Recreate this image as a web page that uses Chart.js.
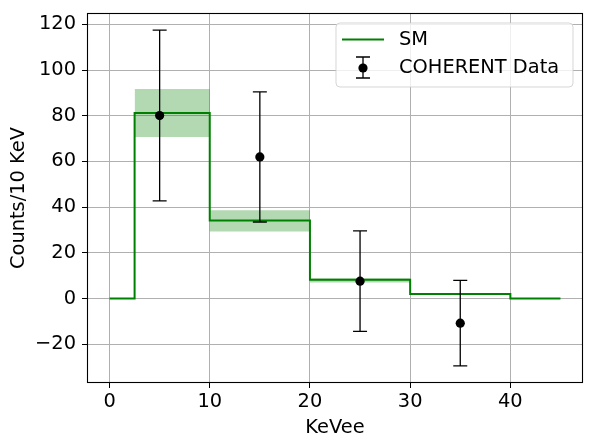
<!DOCTYPE html>
<html>
<head>
<meta charset="utf-8">
<script src="https://cdn.jsdelivr.net/npm/chart.js@4.4.1/dist/chart.umd.min.js"></script>
<style>
html,body{margin:0;padding:0;background:#fff;}
#wrap{width:596px;height:446px;}
</style>
</head>
<body>
<div id="wrap"><canvas id="c" width="596" height="446"></canvas></div>
<script>
// ---- data ----
const stepEdges = [0, 2.5, 10, 20, 30, 40, 45];
const smValues = [0, 81.2, 34.1, 8.2, 2.0, 0, 0];
const bandEdges = [2.5, 10, 20, 30, 40];
const bandUpper = [91.7, 38.6, 8.9, 2.3, 2.3];
const bandLower = [70.7, 29.3, 7.0, 1.7, 1.7];
const dataX = [5, 15, 25, 35];
const dataY = [80.1, 62.0, 7.6, -10.8];
const dataErr = [37.4, 28.5, 22.0, 18.7];
const xTicks = [0, 10, 20, 30, 40];
const yTicks = [-20, 0, 20, 40, 60, 80, 100, 120];

const FONT = 'DejaVu Sans';
const FS = 19.4;

const smPts = stepEdges.map((x, i) => ({x: x, y: smValues[i]}));
const upPts = bandEdges.map((x, i) => ({x: x, y: bandUpper[i]}));
const loPts = bandEdges.map((x, i) => ({x: x, y: bandLower[i]}));
const obsPts = dataX.map((x, i) => ({x: x, y: dataY[i]}));

const errorBars = {
  id: 'errorBars',
  afterDatasetsDraw(chart) {
    const ctx = chart.ctx, xs = chart.scales.x, ys = chart.scales.y;
    ctx.save();
    ctx.strokeStyle = '#000';
    ctx.lineWidth = 1.3;
    dataX.forEach((x, i) => {
      const px = xs.getPixelForValue(x);
      const pt = ys.getPixelForValue(dataY[i] + dataErr[i]);
      const pb = ys.getPixelForValue(dataY[i] - dataErr[i]);
      ctx.beginPath();
      ctx.moveTo(px, pt); ctx.lineTo(px, pb);
      ctx.moveTo(px - 7, pt); ctx.lineTo(px + 7, pt);
      ctx.moveTo(px - 7, pb); ctx.lineTo(px + 7, pb);
      ctx.stroke();
    });
    ctx.restore();
  }
};

const frame = {
  id: 'frame',
  afterDraw(chart) {
    const ctx = chart.ctx, a = chart.chartArea;
    ctx.save();
    ctx.strokeStyle = '#000';
    ctx.lineWidth = 1.1;
    ctx.strokeRect(Math.round(a.left) + 0.5, Math.round(a.top) + 0.5,
                   Math.round(a.right - a.left) - 1, Math.round(a.bottom - a.top) - 1);
    // legend
    const lx = 336, ly = 23, lw = 237, lh = 64, r = 4;
    ctx.beginPath();
    ctx.moveTo(lx + r, ly);
    ctx.arcTo(lx + lw, ly, lx + lw, ly + lh, r);
    ctx.arcTo(lx + lw, ly + lh, lx, ly + lh, r);
    ctx.arcTo(lx, ly + lh, lx, ly, r);
    ctx.arcTo(lx, ly, lx + lw, ly, r);
    ctx.closePath();
    ctx.fillStyle = 'rgba(255,255,255,0.8)';
    ctx.fill();
    ctx.strokeStyle = 'rgba(204,204,204,0.8)';
    ctx.lineWidth = 1;
    ctx.stroke();
    // SM entry
    ctx.strokeStyle = 'green';
    ctx.lineWidth = 2;
    ctx.beginPath(); ctx.moveTo(342, 39.5); ctx.lineTo(384, 39.5); ctx.stroke();
    // data entry
    ctx.strokeStyle = '#000';
    ctx.lineWidth = 1.3;
    ctx.beginPath();
    ctx.moveTo(363, 57); ctx.lineTo(363, 78);
    ctx.moveTo(356, 57); ctx.lineTo(370, 57);
    ctx.moveTo(356, 78); ctx.lineTo(370, 78);
    ctx.stroke();
    ctx.fillStyle = '#000';
    ctx.beginPath(); ctx.arc(363, 68, 4.6, 0, Math.PI * 2); ctx.fill();
    ctx.font = FS + 'px "' + FONT + '"';
    ctx.textBaseline = 'middle';
    ctx.textAlign = 'left';
    ctx.fillText(chart.data.datasets[1].label, 399, 40);
    ctx.fillText(chart.data.datasets[0].label, 399, 68);
    ctx.restore();
  }
};

new Chart(document.getElementById('c'), {
  type: 'scatter',
  data: {
    datasets: [
      {label: 'COHERENT Data', data: obsPts, showLine: false, pointRadius: 4.6,
       pointBackgroundColor: '#000', pointBorderColor: '#000', pointBorderWidth: 0},
      {label: 'SM', data: smPts, showLine: true, stepped: 'before', borderColor: 'green',
       borderWidth: 2, pointRadius: 0, fill: false},
      {label: 'bandUp', data: upPts, showLine: true, stepped: 'before', borderWidth: 0,
       borderColor: 'rgba(0,0,0,0)', pointRadius: 0, fill: false},
      {label: 'bandLo', data: loPts, showLine: true, stepped: 'before', borderWidth: 0,
       borderColor: 'rgba(0,0,0,0)', pointRadius: 0, fill: '-1',
       backgroundColor: 'rgba(0,128,0,0.3)'}
    ]
  },
  options: {
    responsive: false,
    animation: false,
    events: [],
    layout: {padding: {top: 13, right: 13, left: 0, bottom: 0}},
    plugins: {legend: {display: false}, tooltip: {enabled: false}},
    scales: {
      x: {
        type: 'linear', min: -2.25, max: 47.25,
        afterFit(s) { s.height = 63; s.paddingLeft = 0; s.paddingRight = 0; },
        afterBuildTicks(s) { s.ticks = xTicks.map(v => ({value: v})); },
        ticks: {includeBounds: false, color: '#000', padding: 2,
                font: {family: FONT, size: FS}, maxRotation: 0},
        grid: {color: '#b0b0b0', lineWidth: 1, tickColor: '#000', tickLength: 5},
        border: {display: false},
        title: {display: true, text: 'KeVee', color: '#000',
                font: {family: FONT, size: FS}, padding: {top: 0, bottom: 6}}
      },
      y: {
        type: 'linear', min: -37, max: 125,
        afterFit(s) { s.width = 87; s.paddingTop = 0; s.paddingBottom = 0; },
        afterBuildTicks(s) { s.ticks = yTicks.map(v => ({value: v})); },
        ticks: {includeBounds: false, color: '#000', padding: 6,
                font: {family: FONT, size: FS},
                callback: v => (v < 0 ? '\u2212' + Math.abs(v) : String(v))},
        grid: {color: '#b0b0b0', lineWidth: 1, tickColor: '#000', tickLength: 5},
        border: {display: false},
        title: {display: true, text: 'Counts/10 KeV', color: '#000',
                font: {family: FONT, size: FS}, padding: {top: 7, bottom: 0}}
      }
    }
  },
  plugins: [errorBars, frame]
});
</script>
</body>
</html>
